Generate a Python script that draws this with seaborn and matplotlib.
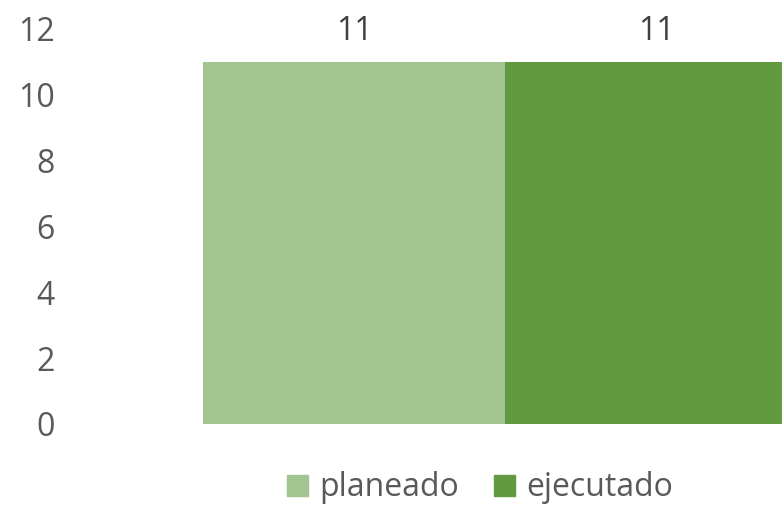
import matplotlib
matplotlib.use("Agg")
import matplotlib.pyplot as plt
import pandas as pd
import seaborn as sns

series = ["planeado", "ejecutado"]
values = [11, 11]
colors = ["#A2C490", "#629A3F"]
y_ticks = [0, 2, 4, 6, 8, 10, 12]

df = pd.DataFrame({"serie": series, "valor": values})

sns.set_theme(style="white")
plt.rcParams["font.family"] = ["Open Sans", "DejaVu Sans"]

fig = plt.figure(figsize=(7.82, 5.05), dpi=100)
ax = fig.add_axes([70 / 782, 81 / 505, 712 / 782, 395 / 505])

sns.barplot(
    data=df,
    x="serie",
    y="valor",
    hue="serie",
    palette=colors,
    width=1.0,
    saturation=1,
    linewidth=0,
    ax=ax,
    legend=False,
)

ax.set_xlim(-0.94, 1.416)
ax.set_ylim(0, 12)
ax.set_yticks(y_ticks)
ax.set_yticklabels([str(t) for t in y_ticks], color="#595959", fontsize=23)
ax.tick_params(axis="y", length=0, pad=11)
ax.set_xticks([])
ax.set_xlabel("")
ax.set_ylabel("")
sns.despine(ax=ax, left=True, bottom=True)

# data labels sit at the top of the plot area, like the original
for i, v in enumerate(values):
    ax.text(i, 11.93, str(v), ha="center", va="center", fontsize=23, color="#404040",
            clip_on=False)

handles = [plt.Rectangle((0, 0), 1, 1, color=c) for c in colors]
fig.legend(
    handles,
    series,
    loc="center",
    bbox_to_anchor=(480 / 782, 17 / 505),
    ncol=2,
    frameon=False,
    fontsize=23,
    handlelength=0.65,
    handleheight=0.65,
    handletextpad=0.35,
    columnspacing=1.1,
    labelcolor="#595959",
    borderpad=0,
)

fig.savefig("out.png", dpi=100)
